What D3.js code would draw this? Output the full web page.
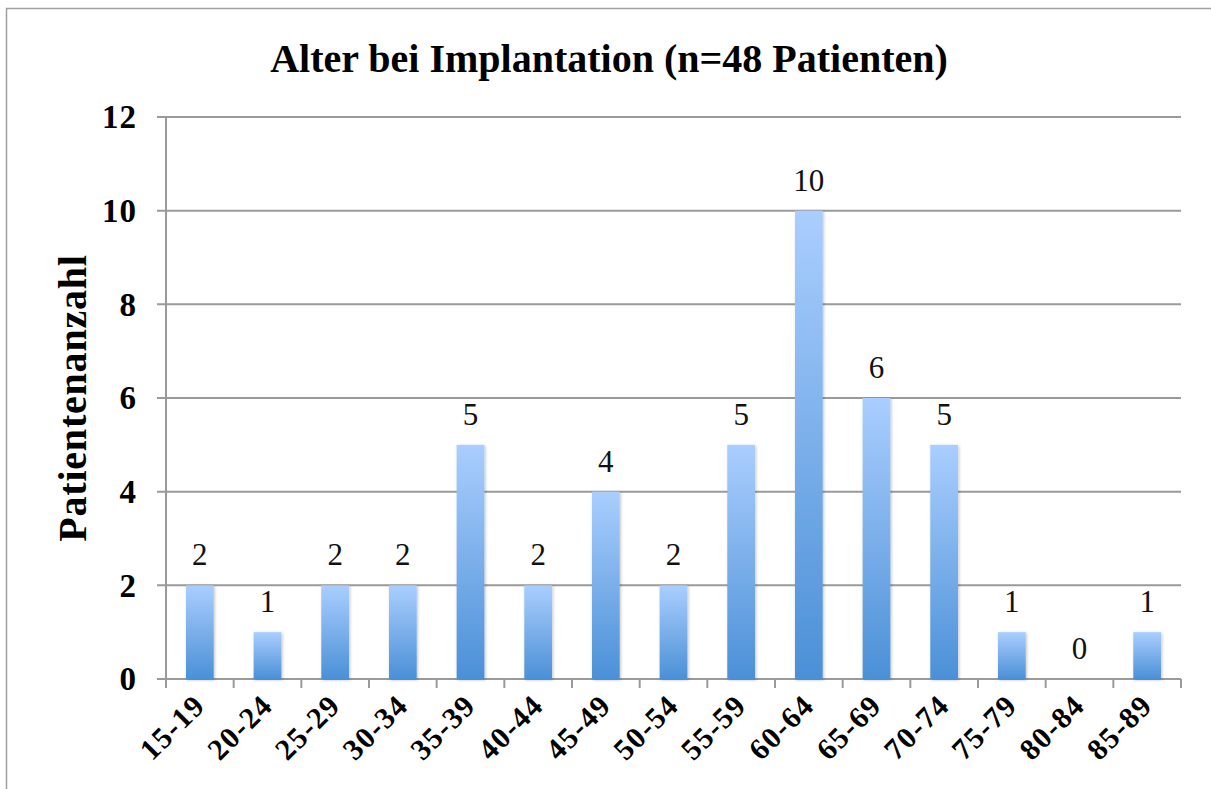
<!DOCTYPE html>
<html>
<head>
<meta charset="utf-8">
<script src="https://cdn.jsdelivr.net/npm/d3@7"></script>
<style>
  body { margin: 0; background: #fff; }
  svg text { font-family: "Liberation Serif", "DejaVu Serif", serif; }
</style>
</head>
<body>
<div id="chart"></div>
<script>
// data
const categories = ["15-19", "20-24", "25-29", "30-34", "35-39", "40-44", "45-49", "50-54",
                    "55-59", "60-64", "65-69", "70-74", "75-79", "80-84", "85-89"];
const patients = [2, 1, 2, 2, 5, 2, 4, 2, 5, 10, 6, 5, 1, 0, 1];
const yTicks = [0, 2, 4, 6, 8, 10, 12];
const chartTitle = "Alter bei Implantation (n=48 Patienten)";
const yTitle = "Patientenanzahl";

const width = 1211, height = 789;
const margin = { left: 166, right: 30, top: 117, bottom: 110 };

const svg = d3.select("#chart").append("svg")
    .attr("width", width)
    .attr("height", height);

// outer frame
svg.append("rect")
    .attr("x", 6.5).attr("y", 8.5)
    .attr("width", width + 10).attr("height", height + 10)
    .attr("fill", "none")
    .attr("stroke", "#a0a0a0")
    .attr("stroke-width", 1.5);

const x = d3.scaleBand()
    .domain(categories)
    .range([margin.left, width - margin.right])
    .paddingInner(0.59)
    .paddingOuter(0.295);

const y = d3.scaleLinear()
    .domain([0, 12])
    .range([679, 117]);

const defs = svg.append("defs");
const grad = defs.append("linearGradient")
    .attr("id", "barGrad")
    .attr("x1", 0).attr("y1", 0).attr("x2", 0).attr("y2", 1);
grad.append("stop").attr("offset", "0%").attr("stop-color", "#aacefe");
grad.append("stop").attr("offset", "100%").attr("stop-color", "#4b90d7");

const shadow = defs.append("filter").attr("id", "shadow")
    .attr("x", "-20%").attr("y", "-5%").attr("width", "140%").attr("height", "110%");
shadow.append("feDropShadow")
    .attr("dx", 1).attr("dy", 1).attr("stdDeviation", 1.5)
    .attr("flood-color", "#000").attr("flood-opacity", 0.25);

// gridlines
svg.append("g")
    .selectAll("line")
    .data(yTicks)
    .join("line")
    .attr("x1", margin.left - 9)
    .attr("x2", width - margin.right)
    .attr("y1", d => y(d))
    .attr("y2", d => y(d))
    .attr("stroke", "#9a9a9a")
    .attr("stroke-width", 2);

// y axis line
svg.append("line")
    .attr("x1", margin.left).attr("x2", margin.left)
    .attr("y1", y(12)).attr("y2", y(0) + 9)
    .attr("stroke", "#9a9a9a").attr("stroke-width", 2);

// x ticks between categories
const plotW = width - margin.right - margin.left;
svg.append("g")
    .selectAll("line")
    .data(d3.range(categories.length + 1))
    .join("line")
    .attr("x1", i => margin.left + i * plotW / categories.length)
    .attr("x2", i => margin.left + i * plotW / categories.length)
    .attr("y1", y(0))
    .attr("y2", y(0) + 9)
    .attr("stroke", "#9a9a9a").attr("stroke-width", 2);

// bars
svg.append("g")
    .selectAll("rect")
    .data(patients)
    .join("rect")
    .attr("x", (d, i) => x(categories[i]))
    .attr("y", d => y(d))
    .attr("width", x.bandwidth())
    .attr("height", d => y(0) - y(d))
    .attr("fill", "url(#barGrad)")
    .attr("filter", "url(#shadow)");

// value labels
svg.append("g")
    .selectAll("text")
    .data(patients)
    .join("text")
    .attr("x", (d, i) => x(categories[i]) + x.bandwidth() / 2)
    .attr("y", d => y(d) - 20)
    .attr("text-anchor", "middle")
    .attr("font-size", 31)
    .attr("fill", "#111")
    .text(d => d);

// y tick labels
svg.append("g")
    .selectAll("text")
    .data(yTicks)
    .join("text")
    .attr("x", 137)
    .attr("y", d => y(d))
    .attr("dy", "0.34em")
    .attr("text-anchor", "end")
    .attr("font-size", 33)
    .attr("font-weight", "bold")
    .attr("letter-spacing", 1)
    .text(d => d);

// x tick labels
svg.append("g")
    .selectAll("text")
    .data(categories)
    .join("text")
    .attr("transform", d => `translate(${x(d) + x.bandwidth() / 2 + 7},${y(0) + 28}) rotate(-45)`)
    .attr("text-anchor", "end")
    .attr("font-size", 30)
    .attr("font-weight", "bold")
    .attr("letter-spacing", 1.5)
    .text(d => d);

// title
svg.append("text")
    .attr("x", 609)
    .attr("y", 72)
    .attr("text-anchor", "middle")
    .attr("font-size", 40)
    .attr("font-weight", "bold")
    .text(chartTitle);

// y axis title
svg.append("text")
    .attr("transform", "translate(86,398) rotate(-90)")
    .attr("text-anchor", "middle")
    .attr("font-size", 40)
    .attr("font-weight", "bold")
    .attr("letter-spacing", 0.8)
    .text(yTitle);
</script>
</body>
</html>
